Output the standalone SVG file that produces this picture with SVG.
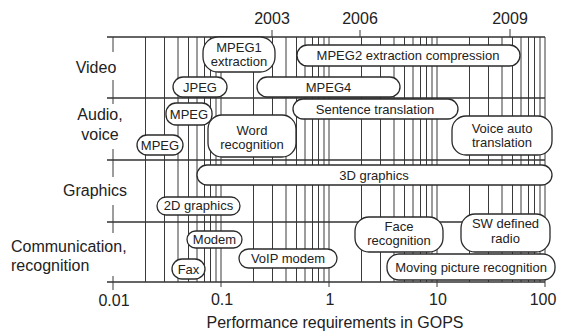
<svg xmlns="http://www.w3.org/2000/svg" width="563" height="334" viewBox="0 0 563 334">
<style>
.g{stroke:#3a3a3a;stroke-width:1;fill:none}
.h{stroke:#333;stroke-width:1.5;fill:none}
.b{fill:#fff;stroke:#2a2a2a;stroke-width:1.3}
.t{font-family:"Liberation Sans",Arial,sans-serif;font-size:13px;fill:#222;text-anchor:middle}
.l{font-family:"Liberation Sans",Arial,sans-serif;font-size:16px;fill:#222;text-anchor:middle}
.s{font-family:"Liberation Sans",Arial,sans-serif;font-size:16px;fill:#222}
</style>
<rect width="563" height="334" fill="#fff"/>
<g id="connectors">
<path class="g" d="M145.5 37V282M164.5 37V282M178 37V282M188.5 37V282M197 37V282M204.5 37V282M210.5 37V282M216 37V282M221 37V282M253.5 37V282M272.5 37V282M286 37V282M296.5 37V282M305 37V282M312.5 37V282M318.5 37V282M324 37V282M329 37V282M361.5 37V282M380.5 37V282M394 37V282M404.5 37V282M413 37V282M420.5 37V282M426.5 37V282M432 37V282M437 37V282M469.5 37V282M488.5 37V282M502 37V282M512.5 37V282M521 37V282M528.5 37V282M534.5 37V282M540 37V282M545 37V282"/>
<path class="h" d="M107 37H545M107 98H545M107 160H545M107 222H545M107 282H545"/>
<path class="g" d="M113 37V52M113 80V98M113 98V104M113 149V160M113 160V177M113 205V222M113 222V233M113 276V290M221 282V287M329 282V287M437 282V287M545 282V287M272 30V37M360 30V37M510 29V37"/>
</g>
<g id="axis-labels">
<text class="l" x="272" y="24">2003</text>
<text class="l" x="360" y="24">2006</text>
<text class="l" x="510" y="24">2009</text>
<text class="l" x="114" y="306">0.01</text>
<text class="l" x="222" y="305">0.1</text>
<text class="l" x="330" y="305">1</text>
<text class="l" x="438" y="305">10</text>
<text class="l" x="543" y="305">100</text>
<text class="l" x="335" y="328">Performance requirements in GOPS</text>
<text class="l" x="96" y="73">Video</text>
<text class="l" x="100" y="120">Audio,</text>
<text class="l" x="100" y="140">voice</text>
<text class="l" x="95" y="196">Graphics</text>
<text class="s" x="11" y="252">Communication,</text>
<text class="s" x="11" y="271">recognition</text>
</g>
<g id="mpeg1"><rect class="b" x="203" y="37" width="72" height="35" rx="15"/><text class="t" x="239" y="52">MPEG1</text><text class="t" x="239" y="66">extraction</text></g>
<g id="mpeg2"><rect class="b" x="297" y="45" width="223" height="21" rx="10.5"/><text class="t" x="408" y="60">MPEG2 extraction compression</text></g>
<g id="jpeg"><rect class="b" x="173" y="77" width="54" height="20" rx="10"/><text class="t" x="200" y="92">JPEG</text></g>
<g id="mpeg4"><rect class="b" x="257" y="77" width="143" height="20" rx="10"/><text class="t" x="328.5" y="92">MPEG4</text></g>
<g id="mpeg-a"><rect class="b" x="166" y="103" width="46" height="22" rx="10"/><text class="t" x="189" y="119">MPEG</text></g>
<g id="mpeg-b"><rect class="b" x="137" y="135" width="46" height="20" rx="10"/><text class="t" x="160" y="150">MPEG</text></g>
<g id="word"><rect class="b" x="208" y="115" width="88" height="42" rx="14"/><text class="t" x="252" y="135">Word</text><text class="t" x="252" y="149">recognition</text></g>
<g id="sentence"><rect class="b" x="293" y="99" width="165" height="20" rx="10"/><text class="t" x="375" y="114">Sentence translation</text></g>
<g id="voice"><rect class="b" x="452" y="116" width="100" height="39" rx="14"/><text class="t" x="502" y="133">Voice auto</text><text class="t" x="502" y="147">translation</text></g>
<g id="g3d"><rect class="b" x="197" y="165" width="355" height="20" rx="10"/><text class="t" x="374" y="180">3D graphics</text></g>
<g id="g2d"><rect class="b" x="157" y="197" width="83" height="18" rx="9"/><text class="t" x="198.5" y="210">2D graphics</text></g>
<g id="face"><rect class="b" x="355" y="217" width="88" height="35" rx="14"/><text class="t" x="399" y="231">Face</text><text class="t" x="399" y="245">recognition</text></g>
<g id="sw"><rect class="b" x="461" y="214" width="89" height="38" rx="14"/><text class="t" x="505.5" y="228">SW defined</text><text class="t" x="505.5" y="243">radio</text></g>
<g id="modem"><rect class="b" x="187" y="231" width="55" height="17" rx="8.5"/><text class="t" x="214.5" y="244">Modem</text></g>
<g id="fax"><rect class="b" x="172" y="259" width="33" height="20" rx="10"/><text class="t" x="188.5" y="274">Fax</text></g>
<g id="voip"><rect class="b" x="239" y="249" width="98" height="19" rx="9.5"/><text class="t" x="288" y="263">VoIP modem</text></g>
<g id="moving"><rect class="b" x="387" y="254" width="168" height="26" rx="12"/><text class="t" x="471" y="272">Moving picture recognition</text></g>
</svg>
